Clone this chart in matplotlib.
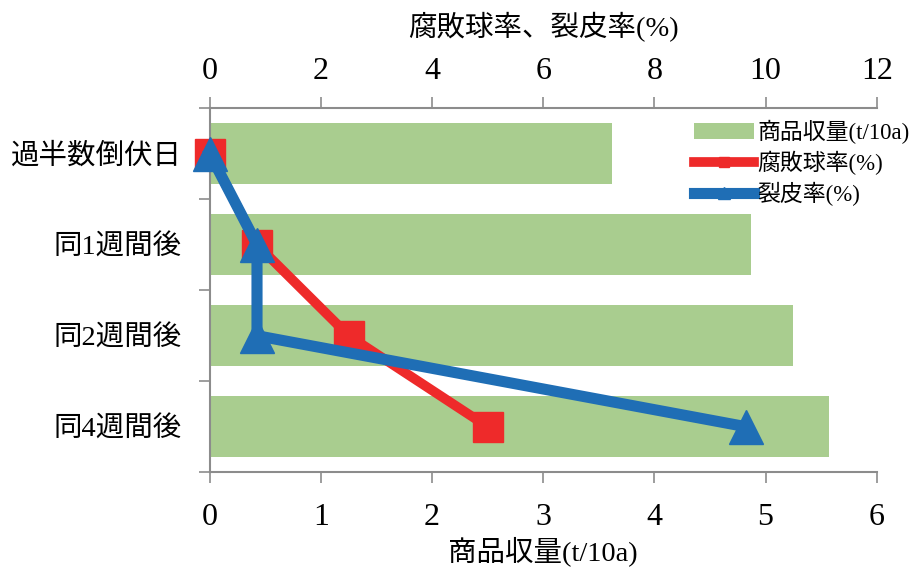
import matplotlib.pyplot as plt
import numpy as np

plt.rcParams['font.family'] = ['Liberation Serif', 'Noto Sans CJK JP']

categories = ['過半数倒伏日', '同1週間後', '同2週間後', '同4週間後']
yield_t = [3.62, 4.87, 5.25, 5.57]          # 商品収量 (t/10a)
rot_rate = [0.0, 0.85, 2.5, 5.0]             # 腐敗球率 (%)
crack_rate = [0.0, 0.85, 0.85, 9.65]         # 裂皮率 (%)

green = '#a9cd8f'
red = '#ee2a2a'
blue = '#1f6eb5'
grey = '#8c8c8c'

fig = plt.figure(figsize=(9.2, 5.69), dpi=100)
ax = fig.add_axes([0.228, 0.170, 0.725, 0.640])
y = np.arange(len(categories))

bars = ax.barh(y, yield_t, height=0.67, color=green, label='商品収量(t/10a)')
ax.set_xlim(0, 6)
ax.set_ylim(3.5, -0.5)
ax.set_yticks(y)
ax.set_yticklabels(categories, fontsize=20.5)
ax.tick_params(axis='y', length=0, pad=20)
ax.set_yticks(np.arange(-0.5, 4.0, 1.0), minor=True)
ax.tick_params(axis='y', which='minor', length=8, color=grey, width=1.2)
ax.set_xticks(range(7))
ax.tick_params(axis='x', labelsize=23, length=8, color=grey, width=1.2, pad=14)
ax.set_xlabel('商品収量(t/10a)', fontsize=20.5, labelpad=3)

for side in ['top', 'right']:
    ax.spines[side].set_visible(False)
for side in ['left', 'bottom']:
    ax.spines[side].set_color(grey)
    ax.spines[side].set_linewidth(1.5)

# rates on the top axis
ax2 = ax.twiny()
ax2.set_xlim(0, 12)
ax2.set_xticks(range(0, 13, 2))
ax2.tick_params(axis='x', labelsize=23, length=8, color=grey, width=1.2, pad=8)
ax2.set_xlabel('腐敗球率、裂皮率(%)', fontsize=20.5, labelpad=15)
ax2.spines['top'].set_color(grey)
ax2.spines['top'].set_linewidth(1.5)
for side in ['left', 'right', 'bottom']:
    ax2.spines[side].set_visible(False)

l1, = ax2.plot(rot_rate, y, color=red, lw=7, marker='s', ms=21,
               label='腐敗球率(%)', clip_on=False)
l2, = ax2.plot(crack_rate, y, color=blue, lw=8, marker='^', ms=24,
               label='裂皮率(%)', clip_on=False)

leg = ax2.legend([bars, l1, l2], ['商品収量(t/10a)', '腐敗球率(%)', '裂皮率(%)'],
                 loc='upper right', bbox_to_anchor=(1.08, 1.025), frameon=False,
                 fontsize=16.5, handlelength=2.6, handleheight=0.7,
                 handletextpad=0.15, labelspacing=0.3, markerscale=0.35)

fig.savefig('out.png', dpi=100, facecolor='white')
